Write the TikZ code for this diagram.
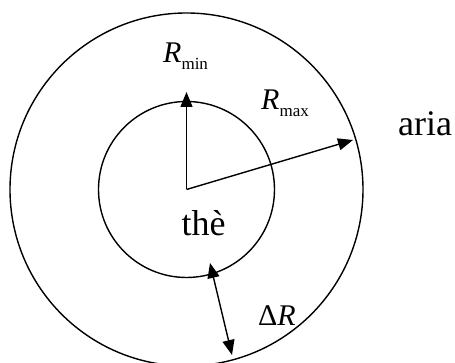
\documentclass[tikz,border=0pt]{standalone}
\usepackage{fontspec}
\setmainfont{Liberation Serif}
\usetikzlibrary{arrows.meta}
\newcommand{\Rlabel}[1]{\textit{R}\raisebox{-7pt}{\fontsize{17}{17}\selectfont #1}}

\begin{document}
\begin{tikzpicture}[x=1pt, y=1pt,
  ring/.style={line width=1.4pt},
  arr/.style={-{Triangle[length=15pt,width=12pt]}, line width=1.4pt},
  darr/.style={{Triangle[length=15pt,width=12pt]}-{Triangle[length=15pt,width=12pt]}, line width=1.4pt},
  lbl/.style={inner sep=0pt, anchor=base west, font=\fontsize{36}{36}\selectfont},
  rlbl/.style={lbl, font=\fontsize{30}{30}\selectfont}]
\useasboundingbox (-186.5,-173.5) rectangle (268.5,189.5);
\coordinate (O) at (0,0);
\draw[ring] (O) circle (176.5pt);
\draw[ring] (O) circle (88pt);
\coordinate (rmin) at (0,97.5);
\coordinate (rmax) at (166.5,49.5);
\coordinate (dtop) at (23.5,-73.5);
\coordinate (dbot) at (45.5,-165.5);
\draw[arr] (O) -- (rmin);
\draw[arr] (O) -- (rmax);
\draw[darr] (dtop) -- (dbot);
\node[rlbl] (lmin) at (-23.5,126.5) {\Rlabel{min}};
\node[rlbl] (lmax) at (74.5,79.5) {\Rlabel{max}};
\node[lbl] (the) at (-5,-46.5) {thè};
\node[lbl] (aria) at (211.5,53.5) {aria};
\node[rlbl] (dr) at (71.5,-136.5) {Δ\textit{R}};
\end{tikzpicture}
\end{document}
